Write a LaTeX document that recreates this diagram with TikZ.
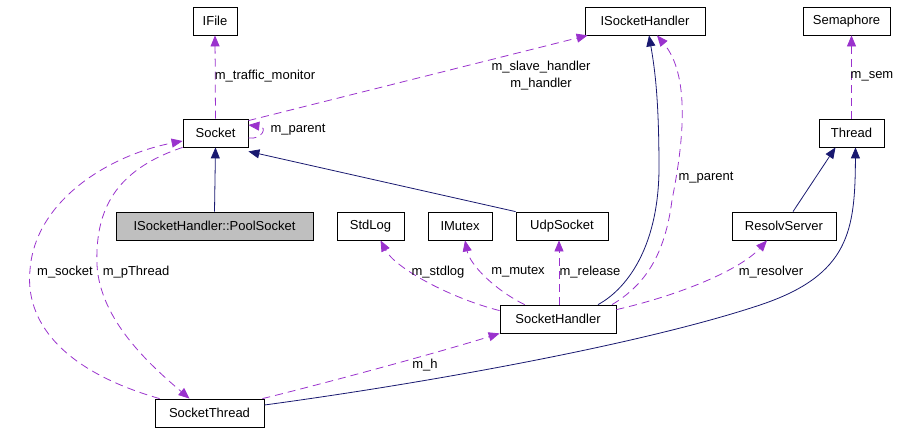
\documentclass[tikz,border=0pt]{standalone}
\usepackage{fontspec}
\setmainfont{Liberation Sans}
\usetikzlibrary{arrows.meta}
\definecolor{edgeblue}{HTML}{191970}
\definecolor{edgepurple}{HTML}{9A32CD}
\definecolor{boxgray}{HTML}{BFBFBF}
\tikzset{
  box/.style={draw, line width=0.8pt, minimum height=28pt, inner sep=0pt, font=\fontsize{13}{15}\selectfont},
  lbl/.style={inner sep=0pt, font=\fontsize{13}{15}\selectfont},
  inh/.style={draw=edgeblue, line width=0.8pt, -{Triangle[length=11pt,width=9pt]}},
  usage/.style={draw=edgepurple, line width=0.8pt, dash pattern=on 8pt off 5pt, -{Triangle[length=11pt,width=9pt]}}
}
\begin{document}
\begin{tikzpicture}[x=1pt,y=-1pt]
\useasboundingbox (0,0) rectangle (904,432);
% nodes
\node[box, minimum width=44pt] (IFile) at (215,21) {IFile};
\node[box, minimum width=120pt] (ISH) at (645,21) {ISocketHandler};
\node[box, minimum width=87pt] (Sem) at (846.5,21) {Semaphore};
\node[box, minimum width=65pt] (Socket) at (215.5,133) {Socket};
\node[box, minimum width=65pt] (Thread) at (851.5,133) {Thread};
\node[box, minimum width=197pt, fill=boxgray] (Pool) at (214.5,226) {ISocketHandler::PoolSocket};
\node[box, minimum width=67pt] (StdLog) at (370.5,226) {StdLog};
\node[box, minimum width=64pt] (IMutex) at (460,226) {IMutex};
\node[box, minimum width=92pt] (Udp) at (562,226) {UdpSocket};
\node[box, minimum width=104pt] (Resolv) at (784,226) {ResolvServer};
\node[box, minimum width=116pt] (SH) at (558,319) {SocketHandler};
\node[box, minimum width=109pt] (ST) at (209.5,413) {SocketThread};
% inheritance edges
\draw[inh] (Pool.north) -- (Socket.south);
\draw[inh] (Udp.north west) -- ([yshift=-4pt]Socket.south east);
\draw[inh] ([xshift=40pt]SH.north) .. controls (625,290) and (658,250) .. (659,170) .. controls (659,100) and (655,70) .. ([xshift=4pt]ISH.south);
\draw[inh] ([xshift=9pt]Resolv.north) -- ([xshift=-16pt]Thread.south);
\draw[inh] ([yshift=8pt]ST.east) .. controls (420,384) and (640,345) .. (760,305) .. controls (850,275) and (855,230) .. ([xshift=4pt]Thread.south);
% usage edges
\draw[usage] (Socket.north) -- (IFile.south);
\draw[usage] ([yshift=-2pt]Socket.north east) -- ([xshift=3pt]ISH.south west);
\draw[usage] ([yshift=-5pt]Socket.east) .. controls (262,140) and (268,127) .. ([yshift=8pt]Socket.east);
\draw[usage] ([xshift=54pt]SH.north) .. controls (645,285) and (665,255) .. (672,200) .. controls (684,140) and (690,75) .. ([xshift=12pt]ISH.south);
\draw[usage] ([yshift=-6pt]SH.north west) .. controls (450,298) and (395,268) .. ([xshift=10pt]StdLog.south);
\draw[usage] ([xshift=25pt]SH.north west) .. controls (495,290) and (470,265) .. ([xshift=5pt]IMutex.south);
\draw[usage] ([xshift=1pt]SH.north) -- ([xshift=-3pt]Udp.south);
\draw[usage] ([yshift=-5pt]SH.north east) .. controls (680,295) and (740,270) .. ([xshift=-17pt]Resolv.south);
\draw[usage] (Thread.north) -- (Thread.north |- Sem.south);
\draw[usage] ([xshift=-2pt]ST.north east) .. controls (330,382) and (440,352) .. (SH.south west);
\draw[usage] ([xshift=5pt]ST.north west) .. controls (60,370) and (25,320) .. (30,270) .. controls (35,200) and (110,155) .. ([yshift=-8pt]Socket.west);
\draw[usage] (Socket.south west) .. controls (115,170) and (95,210) .. (97,265) .. controls (100,320) and (150,365) .. ([xshift=-20pt]ST.north);
% labels
\node[lbl] (l1) at (265,76) {m\_traffic\_monitor};
\node[lbl] (l2) at (298,130) {m\_parent};
\node[lbl, align=center, font=\fontsize{13}{17}\selectfont] (l3) at (541,75.5) {m\_slave\_handler\\m\_handler};
\node[lbl] (l4) at (872,76) {m\_sem};
\node[lbl] (l5) at (706,178) {m\_parent};
\node[lbl] (l6) at (65,272) {m\_socket};
\node[lbl] (l7) at (136,272) {m\_pThread};
\node[lbl] (l8) at (438,272) {m\_stdlog};
\node[lbl] (l9) at (518,272) {m\_mutex};
\node[lbl] (l10) at (590,272) {m\_release};
\node[lbl] (l11) at (771,272) {m\_resolver};
\node[lbl] (l12) at (425,365) {m\_h};
\end{tikzpicture}
\end{document}
